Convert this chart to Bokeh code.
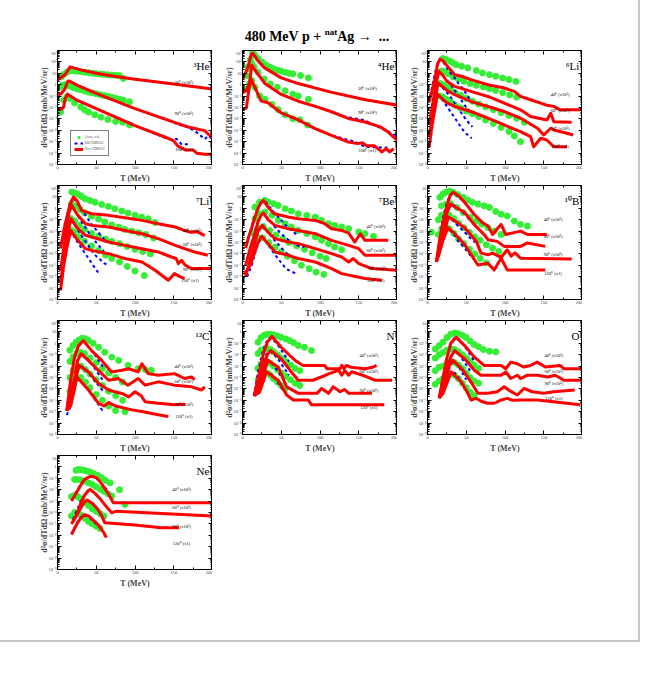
from bokeh.plotting import figure
from bokeh.layouts import gridplot, column, row
from bokeh.models import (Div, Spacer, LogAxis, LinearAxis, FixedTicker,
                          CustomJSTickFormatter, Legend, LegendItem)
from bokeh.core.properties import value
from bokeh.embed import file_html
from bokeh.resources import INLINE

FONT = "Liberation Serif"
GREEN = "#33ee33"
BLUE = "#0000ff"
RED = "#ff0000"

# ---- data: (T in MeV, log10 of d2sigma/dTdOmega) ----
# 3He
he3_exp = [([5,8,12,15,18,22,26,30,35,40,45,50,55,60,65,70,75,80,85],
            [0.7,0.9,1.1,1.2,1.25,1.22,1.18,1.15,1.1,1.05,1.0,0.97,0.93,0.9,0.87,0.85,0.82,0.8,0.55]),
           ([3,6,10,15,20,25,30,35,40,45,50,55,60,65,70,75,80,85,93],
            [-0.2,-0.05,0.0,-0.1,-0.25,-0.35,-0.45,-0.55,-0.65,-0.72,-0.8,-0.88,-0.95,-1.02,-1.1,-1.2,-1.28,-1.35,-1.5]),
           ([4,8,12,16,22,30,35,40,48,56,65,75,84,93],
            [-2.4,-1.36,-1.07,-1.21,-1.6,-1.96,-2.2,-2.4,-2.64,-2.85,-3.05,-3.23,-3.29,-3.53])]
he3_old = [([0,5,10,13,16,20,30,50,75,100,150,200],
            [0.4,0.65,0.9,1.2,1.55,1.5,1.3,1.0,0.72,0.48,0.06,-0.4]),
           ([0,5,10,13,15,25,50,100,143,160,169,180,190,195,200],
            [-0.92,-0.77,-0.32,0.27,0.33,-0.03,-0.77,-2.1,-3.14,-3.59,-3.74,-4.2,-4.78,-4.48,-4.8]),
           ([0,5,8,10,13,15,25,50,100,143,154,160,169],
            [-2.16,-2.16,-1.96,-1.21,-0.83,-0.92,-1.36,-2.1,-3.59,-4.77,-4.77,-5.22,-5.22])]
he3_new = [([0,5,10,13,16,20,30,50,75,100,150,200],
            [0.4,0.65,0.9,1.2,1.55,1.5,1.3,1.0,0.72,0.48,0.06,-0.38]),
           ([0,5,10,13,15,25,50,100,150,170,180,190,200],
            [-0.92,-0.77,-0.32,0.27,0.33,-0.03,-0.77,-2.1,-3.29,-3.74,-3.88,-4.03,-4.7]),
           ([0,5,8,10,13,15,25,50,100,140,150,155,165,175,180,190,200],
            [-2.16,-2.16,-1.96,-1.21,-0.83,-0.92,-1.36,-2.1,-3.59,-4.63,-4.92,-5.37,-5.72,-5.72,-6.02,-6.11,-6.11])]
he3_lab = ["20\u2070 (x10\u00b2)", "90\u2070 (x10\u00b9)", "160\u2070 (x1)"]
he3_lab_T = [163, 163, 163]
he3_lab_lg = [0.21, -2.55, -5.67]

# 4He
he4_exp = [([7,10,13,16,20,25,30,35,40,45,50,55,60,65,75,85],
            [1.56,2.2,2.8,2.6,2.3,2.0,1.75,1.55,1.4,1.28,1.18,1.1,1.0,0.95,0.8,0.6]),
           ([5,9,12,15,20,28,36,45,55,65,72,85],
            [0.8,1.4,1.85,1.55,1.1,0.5,0.07,-0.23,-0.53,-0.83,-1.0,-1.28]),
           ([6,9,12,16,22,29,38,46,55,65,74,84],
            [-0.38,0.07,0.37,-0.23,-0.98,-1.28,-1.73,-2.18,-2.63,-2.99,-3.08,-3.53])]
he4_old = [([0,3,7,11,13,15,20,28,50,72,114,157,200],
            [0.5,0.9,1.5,2.6,2.75,2.6,2.1,1.5,0.6,0.1,-0.65,-1.3,-1.8]),
           ([0,5,9,12,18,29,50,72,93,114,132,157,170,184,200],
            [-0.7,-0.5,0.2,1.7,1.1,0.1,-0.85,-1.45,-1.88,-2.35,-2.8,-3.1,-3.55,-4.0,-4.5]),
           ([0,5,8,11,16,24,33,50,72,93,114,145,158,175,187],
            [-2.18,-2.03,-0.53,0.5,-0.23,-1.43,-1.58,-2.48,-3.08,-3.83,-4.43,-5.0,-5.45,-5.5,-5.5])]
he4_new = [([0,3,7,11,13,15,20,28,50,72,114,157,200],
            [0.5,0.9,1.5,2.6,2.75,2.6,2.1,1.5,0.6,0.1,-0.65,-1.3,-1.8]),
           ([0,5,9,12,18,29,50,72,93,114,138,157,178,187,200],
            [-0.7,-0.5,0.2,1.7,1.1,0.1,-0.85,-1.45,-1.88,-2.35,-2.99,-3.25,-3.7,-4.1,-4.9]),
           ([0,5,8,11,16,24,33,50,72,93,114,136,149,155,160,170,180,185,190,195],
            [-2.18,-2.03,-0.53,0.5,-0.23,-1.43,-1.58,-2.48,-3.08,-3.83,-4.43,-5.02,-5.17,-5.1,-5.35,-5.35,-5.9,-5.6,-5.9,-5.6])]
he4_lab = ["20\u2070 (x10\u00b2)", "90\u2070 (x10\u00b9)", "160\u2070 (x1)"]
he4_lab_T = [161, 161, 161]
he4_lab_lg = [-0.29, -2.48, -5.77]

# 6Li
li6_exp = [([20,24,29,33,37,44,52,63,71,80,88,97,105,114],
            [1.29,1.21,1.06,0.91,0.76,0.62,0.47,0.24,0.03,-0.12,-0.26,-0.41,-0.55,-0.71]),
           ([18,22,27,33,40,47,55,63,72,80,88,97,106,115],
            [0.2,0.15,-0.05,-0.3,-0.5,-0.7,-0.9,-1.05,-1.2,-1.35,-1.5,-1.7,-1.9,-2.1]),
           ([16,20,25,30,36,43,50,58,66,75,85,95,105,115,125],
            [-0.9,-1.0,-1.2,-1.45,-1.7,-1.95,-2.2,-2.45,-2.7,-2.95,-3.2,-3.45,-3.7,-3.95,-4.3]),
           ([16,20,25,30,36,43,50,58,66,75,85,95,105,112,120],
            [-2.0,-2.1,-2.3,-2.55,-2.8,-3.05,-3.3,-3.55,-3.8,-4.1,-4.4,-4.75,-5.1,-5.5,-6.0])]
li6_old = [([2,8,12,16,20,25,30,35,40,45,50,55],
            [-2.5,-0.5,0.7,1.2,1.0,0.5,0.0,-0.4,-0.9,-1.3,-1.8,-2.3]),
           ([2,8,12,15,20,25,30,35,40,45,50,56],
            [-4.5,-1.8,-0.3,0.15,-0.2,-0.6,-1.0,-1.5,-2.0,-2.5,-3.0,-3.4]),
           ([2,8,12,14,20,25,30,35,40,45,50,58],
            [-5.5,-3.0,-1.2,-0.85,-1.3,-1.7,-2.1,-2.6,-3.1,-3.6,-4.1,-4.7]),
           ([2,8,11,13,20,25,30,35,40,45,50,57],
            [-6.5,-4.0,-2.2,-1.85,-2.4,-2.9,-3.4,-3.9,-4.4,-4.9,-5.3,-5.7])]
li6_new = [([2,6,10,13,16,20,24,35,44,56,78,99,112,120,133,146,154,163,171,200],
            [-2.5,-1.5,-0.3,0.8,1.25,1.1,0.76,-0.12,-0.26,-0.56,-1.0,-1.29,-1.59,-2.03,-2.32,-2.62,-2.8,-2.9,-3.2,-3.2]),
           ([2,6,10,14.5,20,25,35,56,78,99,120,133,154,159,163,186],
            [-4.5,-3.0,-1.3,0.18,-0.2,-0.7,-1.15,-1.59,-2.03,-2.62,-3.2,-3.79,-4.09,-3.5,-4.24,-4.3]),
           ([2,6,10,13.6,20,25,35,56,78,99,120,142,150,159,163,180,188],
            [-5.5,-4.0,-2.3,-0.85,-1.2,-1.5,-1.88,-2.47,-2.91,-3.35,-3.94,-4.82,-5.41,-4.82,-4.97,-5.26,-5.41]),
           ([2,6,10,12.8,20,25,35,56,78,99,120,133,137,146,154,163,180],
            [-6.5,-4.5,-3.0,-1.82,-2.3,-2.6,-2.91,-3.35,-3.94,-4.53,-5.12,-5.56,-6.44,-5.7,-5.85,-6.44,-6.44])]
li6_lab = ["40\u2070 (x10\u00b3)", "60\u2070 (x10\u00b2)", "90\u2070 (x10\u00b9)", "120\u2070 (x1)"]
li6_lab_T = [171, 171, 171, 171]
li6_lab_lg = [-1.88, -3.26, -4.82, -6.44]

# 7Li
li7_exp = [([18.5,22.7,27,31,35.6,42,48.5,57,65.7,74,83,91,100,108.6,117,126],
            [1.42,1.33,1.21,1.04,0.83,0.69,0.54,0.34,0.16,-0.04,-0.24,-0.42,-0.62,-0.77,-0.92,-1.25]),
           ([18,23,29,35,44,53,61,70,79,87,96,105,114,124],
            [0.4,0.2,-0.1,-0.4,-0.7,-0.95,-1.2,-1.45,-1.65,-1.85,-2.0,-2.15,-2.3,-2.6]),
           ([12,17,22,28,35,44,53,62,70,80,90,100,110,120],
            [-1.4,-0.9,-1.1,-1.5,-1.85,-2.2,-2.45,-2.7,-2.9,-3.1,-3.35,-3.6,-3.8,-4.0]),
           ([12,17,22,28,35,44,53,62,70,80,90,100,112],
            [-2.5,-1.9,-2.1,-2.5,-2.9,-3.3,-3.7,-4.1,-4.4,-4.7,-5.1,-5.5,-5.9])]
li7_old = [([4,10,15,20,25,30,35,40,45,50,55,60,65],
            [-3.5,-1.5,0.2,0.95,0.5,0.0,-0.5,-1.0,-1.5,-1.9,-2.3,-2.7,-3.0]),
           ([4,10,15,18,25,30,35,40,45,50,55,60],
            [-5.5,-2.5,-0.4,0.2,-0.5,-1.1,-1.6,-2.1,-2.6,-3.0,-3.4,-3.8]),
           ([4,10,15,17,25,30,35,40,45,50,55,60,65],
            [-6.5,-3.5,-1.3,-0.92,-1.8,-2.3,-2.8,-3.3,-3.8,-4.2,-4.5,-4.8,-5.0]),
           ([4,10,15,17,25,30,35,40,45,50,53],
            [-7.2,-4.2,-2.3,-1.95,-2.9,-3.4,-3.9,-4.4,-4.9,-5.4,-5.7])]
li7_new = [([4,8,12,16,20.6,25,31,44,66,87,109,130,152,162,172,180,190],
            [-3.5,-2.0,-0.8,0.3,0.98,0.7,-0.19,-0.48,-0.62,-0.83,-1.06,-1.35,-1.64,-1.9,-2.1,-2.05,-2.4]),
           ([4,8,12,15,18.5,25,36,44,66,87,109,130,152,164,177,194],
            [-5.5,-3.5,-1.5,-0.3,0.25,-0.5,-1.35,-1.5,-1.64,-1.94,-2.23,-2.66,-3.25,-3.54,-3.83,-4.12]),
           ([4,8,12,17.6,25,36,44,66,87,109,130,147,153,156,160,165,173,200],
            [-6.5,-4.5,-2.5,-0.92,-1.7,-2.37,-2.52,-2.96,-3.25,-3.54,-3.83,-4.27,-4.4,-4.85,-4.56,-5.0,-5.29,-5.29]),
           ([4,8,12,17,25,36,44,66,87,109,126,143,151,158,164],
            [-7.2,-5.0,-3.5,-1.94,-2.7,-3.54,-3.69,-3.98,-4.41,-4.71,-5.43,-6.31,-5.73,-6.0,-6.16])]
li7_lab = ["40\u2070 (x10\u00b3)", "60\u2070 (x10\u00b2)", "90\u2070 (x10\u00b9)", "120\u2070 (x1)"]
li7_lab_T = [174, 174, 174, 171]
li7_lab_lg = [-1.94, -3.16, -5.35, -6.37]

# 7Be
be7_exp = [([16,22,29,33,40,46,55,63,72,83,94,102,111,119,128,137,150,158,169],
            [0.1,0.54,0.69,0.55,0.4,0.25,-0.04,-0.24,-0.48,-0.62,-0.77,-1.06,-1.35,-1.5,-1.64,-1.79,-2.08,-2.23,-2.46]),
           ([16,22,29,38,46,55,63,72,83,94,102,111,119,128],
            [-0.92,-0.48,-0.33,-0.62,-1.06,-1.35,-1.64,-1.94,-2.23,-2.52,-2.81,-3.1,-3.39,-3.63]),
           ([14,20,27,35,43,52,60,70,80,90,100,108],
            [-2.2,-1.7,-1.6,-1.95,-2.35,-2.7,-3.0,-3.3,-3.6,-3.9,-4.2,-4.4]),
           ([14,20,26,34,42,50,58,67,76,86,95,105],
            [-3.1,-2.6,-2.6,-3.0,-3.4,-3.8,-4.2,-4.6,-5.0,-5.3,-5.6,-5.8])]
be7_old = [([6,12,18,24,28,33,40,48,56,64,72],
            [-3.0,-1.5,-0.3,0.5,0.7,0.3,-0.3,-0.9,-1.5,-2.0,-2.4]),
           ([6,12,18,24,28,33,40,48,56,64,72,80],
            [-4.5,-3.0,-1.5,-0.6,-0.45,-0.9,-1.5,-2.1,-2.6,-3.0,-3.3,-3.4]),
           ([6,12,18,24,26,33,40,48,56,62],
            [-5.5,-4.0,-2.5,-1.6,-1.5,-2.1,-2.7,-3.3,-3.9,-4.2]),
           ([6,12,18,24,26,33,40,48,56,62,68],
            [-6.0,-5.0,-3.5,-2.6,-2.5,-3.2,-3.9,-4.6,-5.3,-5.5,-5.7])]
be7_new = [([4,8,12,16,20,24,27,33,41,59,72,94,106,115,128,137,145,152,158,188],
            [-3.5,-2.5,-1.7,-0.8,0.0,0.5,0.69,0.1,-0.48,-0.77,-0.92,-1.06,-1.35,-1.79,-1.94,-2.17,-2.96,-2.23,-2.81,-2.81]),
           ([4,10,15,20,24,27,33,42,59,72,94,115,137,150,158,200],
            [-5.0,-3.5,-2.5,-1.2,-0.6,-0.42,-1.0,-1.5,-1.79,-1.94,-2.23,-2.81,-3.25,-3.54,-4.12,-4.12]),
           ([4,10,15,20,25.4,33,42,59,72,94,115,128,137,143,150,167,200],
            [-6.0,-4.5,-3.2,-2.0,-1.5,-2.1,-2.66,-2.96,-3.1,-3.54,-3.98,-4.27,-4.71,-4.41,-4.85,-5.29,-5.43]),
           ([2,10,15,20,24.6,33,42,59,72,94,115,128,158,180],
            [-5.8,-5.0,-4.0,-3.0,-2.46,-3.1,-3.83,-4.12,-4.41,-4.71,-5.29,-5.73,-6.16,-6.31])]
be7_lab = ["40\u2070 (x10\u00b3)", "60\u2070 (x10\u00b2)", "90\u2070 (x10\u00b9)", "120\u2070 (x1)"]
be7_lab_T = [172, 172, 174, 172]
be7_lab_lg = [-1.64, -3.69, -5.29, -6.37]

# 10B
b10_exp = [([16,20,24,28.5,33,39,46,52,58,65,73,80,88,95,103,112,120,129],
            [-0.04,0.26,0.41,0.5,0.41,0.2,-0.04,-0.28,-0.48,-0.63,-0.78,-0.93,-1.28,-1.52,-1.67,-2.12,-2.41,-2.56]),
           ([18,24,30,38,46,55,63,70,78,86,95],
            [-0.78,-0.63,-0.6,-0.93,-1.37,-1.8,-2.1,-2.4,-2.7,-3.0,-3.3]),
           ([5,14,18,23,28,34,40,47,54,61,68,76,84,92],
            [-3.1,-2.0,-1.6,-1.5,-1.6,-1.9,-2.3,-2.7,-3.1,-3.5,-3.8,-4.2,-4.5,-4.8]),
           ([14,18,23,28,34,40,47,54,61,68,76],
            [-3.3,-2.8,-2.6,-2.8,-3.2,-3.7,-4.1,-4.6,-5.0,-5.4,-5.8])]
b10_old = [([12,16,20,25,30,35,40,48,55,62],
            [-5.5,-3.5,-1.8,-0.5,0.25,0.3,0.0,-0.5,-1.1,-1.7]),
           ([12,16,20,25,30,35,40,48,55,62],
            [-5.5,-4.0,-2.5,-1.2,-0.65,-0.75,-1.0,-1.5,-2.0,-2.5]),
           ([12,16,20,25,28,35,40,48,55,62],
            [-5.5,-4.5,-3.2,-2.0,-1.8,-2.2,-2.6,-3.1,-3.6,-4.0]),
           ([12,16,20,25,27,35,40,48,55,60],
            [-5.5,-4.8,-3.8,-2.9,-2.75,-3.4,-3.9,-4.5,-5.1,-5.5])]
b10_new = [([11.5,15,20,25,29,33,40,48,60,71,78,84,90,95,101,120,129,154],
            [-5.7,-4.0,-2.2,-0.8,0.1,0.41,0.1,-0.48,-1.52,-2.26,-2.56,-3.3,-2.8,-2.41,-3.3,-3.0,-3.3,-3.3]),
           ([11.5,15,20,25,30,36,48,60,73,78,90,99,120,129,152],
            [-5.7,-4.5,-3.0,-1.4,-0.63,-0.9,-1.37,-2.41,-3.3,-3.75,-3.9,-4.34,-4.34,-4.04,-4.34]),
           ([11.5,15,20,27,35,48,63,69,78,84,95,103,108,113,120,186],
            [-5.7,-4.8,-3.5,-1.76,-2.1,-2.7,-3.9,-4.93,-5.08,-4.93,-5.3,-4.64,-5.2,-4.9,-5.38,-5.44]),
           ([11.5,15,20,26.4,35,48,65,78,86,95,103,120,152],
            [-5.7,-5.0,-3.8,-2.7,-3.2,-4.19,-5.97,-5.82,-6.42,-5.38,-6.42,-6.42,-6.42])]
b10_lab = ["40\u2070 (x10\u00b3)", "60\u2070 (x10\u00b2)", "90\u2070 (x10\u00b9)", "120\u2070 (x1)"]
b10_lab_T = [162, 162, 162, 162]
b10_lab_lg = [-1.97, -3.45, -5.08, -6.72]

# 12C
c12_exp = [([16,20,24,28,32,36,40,46,53,61,70,79,91,104,113,121],
            [-0.6,-0.2,0.1,0.3,0.45,0.4,0.25,0.0,-0.35,-0.78,-1.21,-1.5,-1.94,-2.23,-2.3,-2.37]),
           ([16,20,25,30,35,42,50,58,66,75,84],
            [-1.6,-1.2,-0.9,-0.8,-0.9,-1.3,-1.7,-2.2,-2.6,-3.0,-3.4]),
           ([16,20,25,30,36,42,50,58,66,75,84],
            [-3.0,-2.4,-2.0,-2.0,-2.3,-2.7,-3.2,-3.7,-4.2,-4.6,-5.0]),
           ([16,20,25,30,36,42,50,58,66,75,87],
            [-4.2,-3.6,-3.1,-3.0,-3.4,-3.9,-4.5,-5.0,-5.5,-5.9,-6.0])]
c12_old = [([12,17,22,27,33,40,47,54,60],
            [-5.9,-3.2,-1.3,-0.3,0.2,-0.3,-0.9,-1.6,-2.2]),
           ([12,17,22,26,31,38,45,52,58],
            [-5.9,-4.5,-3.0,-1.5,-0.9,-1.3,-1.9,-2.6,-3.2]),
           ([12,17,22,28,34,40,47,54,60],
            [-5.9,-5.0,-3.5,-2.0,-2.1,-2.6,-3.2,-3.8,-4.3]),
           ([12,17,22,25,32,40,47,54,58],
            [-6.3,-5.5,-4.0,-3.0,-3.4,-4.1,-4.8,-5.5,-5.9])]
c12_new = [([12,17,22,27,33.5,44,57,66,70,83,92,104,109,117,130,151,164,173,177],
            [-5.9,-3.2,-1.2,-0.2,0.23,-0.64,-1.5,-2.23,-2.51,-2.37,-2.23,-2.51,-1.79,-2.66,-2.8,-2.66,-3.09,-2.95,-3.18]),
           ([12,17,22,26,30.5,44,57,66,78.5,91,104,113,130,151,173,186,190],
            [-5.9,-4.5,-3.0,-1.5,-0.92,-1.79,-2.66,-3.24,-3.09,-3.67,-3.09,-3.67,-3.38,-3.67,-3.82,-4.1,-3.82]),
           ([12,17,22,28,40,53,66,74,83,92,100,108,113,130,151,165],
            [-5.9,-5.2,-3.5,-1.94,-2.51,-3.53,-4.1,-4.25,-4.4,-4.7,-4.25,-4.6,-5.12,-5.26,-5.4,-5.35]),
           ([12,17,22,25,40,53,60,66,75,96,109,130,143],
            [-5.9,-5.5,-4.0,-2.95,-4.1,-5.26,-5.5,-5.2,-5.5,-5.84,-5.98,-6.27,-6.42])]
c12_lab = ["40\u2070 (x10\u00b3)", "60\u2070 (x10\u00b2)", "90\u2070 (x10\u00b9)", "120\u2070 (x1)"]
c12_lab_T = [163, 163, 163, 163]
c12_lab_lg = [-2.02, -3.32, -5.4, -6.42]

# N
n_exp = [([20,24,28,32,36,40,45,50,56,61,66,72,80,89],
          [-0.9,-0.5,-0.3,-0.2,-0.2,-0.25,-0.35,-0.48,-0.62,-0.77,-0.95,-1.2,-1.35,-1.64]),
         ([20,24,28,32,36,40,45,50,56,62,68,74],
          [-1.9,-1.6,-1.5,-1.45,-1.55,-1.75,-2.0,-2.3,-2.6,-2.9,-3.2,-3.4]),
         ([20,24,28,32,36,40,45,50,56,62,68,74],
          [-3.2,-2.8,-2.6,-2.6,-2.75,-3.0,-3.3,-3.6,-3.9,-4.2,-4.5,-4.7]),
         ([20,24,28,32,36,40,45,50,55],
          [-4.2,-3.8,-3.6,-3.6,-3.8,-4.1,-4.4,-4.7,-5.0])]
n_old = [([15,20,25,30,35,40,45,50,55,60],
          [-5.6,-3.5,-2.0,-1.0,-0.5,-0.7,-1.1,-1.6,-2.1,-2.6]),
         ([15,20,25,30,35,40,45,50,55,60],
          [-5.6,-4.0,-2.8,-2.0,-1.7,-1.9,-2.3,-2.8,-3.3,-3.8]),
         ([15,20,25,30,35,40,45,50,55],
          [-5.6,-4.4,-3.4,-2.7,-2.6,-2.9,-3.4,-3.9,-4.4]),
         ([15,20,25,30,35,40,45,50,53],
          [-5.6,-4.8,-4.0,-3.6,-3.6,-3.9,-4.4,-4.9,-5.2])]
n_new = [([15,22,27,32,38,50,61,68,78,106,109,126,128,131,134,140,158,169,173],
          [-5.6,-3.5,-1.9,-0.9,-0.4,-1.35,-2.07,-2.5,-2.94,-2.94,-3.23,-3.23,-2.94,-3.23,-2.94,-3.1,-3.23,-3.08,-2.94]),
         ([15,22,27,32,36.6,50,63,72,91,104,112,124,128,132,137,141,155,171,193],
          [-5.6,-4.5,-3.0,-2.0,-1.64,-2.36,-3.51,-4.24,-4.24,-3.89,-3.66,-3.37,-3.8,-3.4,-3.8,-3.5,-3.8,-4.24,-4.24]),
         ([15,22,28,33,46,57,72,96,102,111,117,126,132,137,167],
          [-5.6,-5.0,-3.5,-2.5,-3.08,-4.82,-5.39,-5.39,-4.96,-5.39,-4.82,-5.25,-5.05,-5.39,-5.39]),
         ([15,22,27,31,46,57,65.5,85,89,183],
          [-5.6,-5.3,-4.3,-3.51,-4.24,-5.54,-5.97,-5.97,-6.4,-6.4])]
n_lab = ["40\u2070 (x10\u00b3)", "60\u2070 (x10\u00b2)", "90\u2070 (x10\u00b9)", "120\u2070 (x1)"]
n_lab_T = [163, 163, 163, 163]
n_lab_lg = [-2.07, -3.43, -5.1, -6.64]

# O
o_exp = [([10,15,20,25,30,35,40,45,50,55,60,66,72,80,88],
          [-1.5,-1.2,-0.9,-0.5,-0.2,-0.1,-0.15,-0.3,-0.5,-0.8,-1.1,-1.3,-1.55,-1.7,-1.75]),
         ([10,15,20,25,30,35,40,45,50,55,60,66],
          [-2.3,-2.0,-1.8,-1.6,-1.5,-1.55,-1.75,-2.0,-2.3,-2.6,-2.9,-3.2]),
         ([10,15,20,25,30,35,40,45,50,55,60,66],
          [-3.4,-3.1,-3.0,-2.8,-2.6,-2.7,-2.9,-3.2,-3.6,-4.0,-4.3,-4.5]),
         ([10,15,20,25,30,35,40,45,50,55,60],
          [-4.6,-4.3,-4.1,-3.9,-3.7,-3.8,-4.1,-4.5,-4.9,-5.3,-5.6])]
o_old = [([15,20,25,30,35,40,45,50,55,60],
          [-5.8,-4.0,-2.3,-1.0,-0.5,-0.6,-1.0,-1.5,-2.0,-2.5]),
         ([15,20,25,30,35,40,45,50,55],
          [-5.8,-4.7,-3.3,-2.2,-1.7,-1.9,-2.4,-2.9,-3.4]),
         ([15,20,25,30,35,40,45,50],
          [-5.8,-5.0,-3.8,-2.8,-2.6,-3.0,-3.6,-4.2]),
         ([15,20,25,30,35,40,45,50],
          [-5.8,-5.2,-4.3,-3.6,-3.6,-4.0,-4.6,-5.2])]
o_new = [([15,20,25,30,37,48,60.5,73,95,101,107.5,116,124,133,141.6,152,171,176,200],
          [-5.8,-4.0,-2.3,-1.0,-0.48,-1.2,-2.21,-2.94,-2.94,-3.23,-2.65,-2.8,-3.08,-2.94,-2.65,-3.08,-2.94,-3.23,-3.23]),
         ([15,20,25,30,35,48,60.5,69,95,101,107.5,116,120,129,142,155,165,176,200],
          [-5.8,-4.7,-3.3,-2.2,-1.64,-2.36,-3.37,-3.8,-3.8,-3.51,-4.09,-3.8,-4.09,-3.8,-3.8,-3.95,-3.8,-4.24,-4.24]),
         ([15,20,25,28,33,46,56,65,78,90,99,107,116,124.5,135,150,163,190],
          [-5.8,-5.2,-4.0,-3.0,-2.5,-3.37,-4.38,-5.39,-5.39,-5.25,-4.82,-5.2,-5.54,-4.96,-5.25,-5.39,-5.25,-5.1]),
         ([15,20,25,30.7,43.5,52,56,63,70,78,86,94,103,110,120,142,197],
          [-5.8,-5.4,-4.5,-3.51,-4.38,-5.39,-5.97,-5.83,-6.1,-6.26,-6.26,-6.0,-5.83,-6.0,-5.97,-5.97,-6.4])]
o_lab = ["40\u2070 (x10\u00b3)", "60\u2070 (x10\u00b2)", "90\u2070 (x10\u00b9)", "120\u2070 (x1)"]
o_lab_T = [163, 163, 163, 163]
o_lab_lg = [-2.07, -3.46, -4.53, -5.83]

# Ne
ne_exp = [([24,27,30,34,38,42,47,52,57,62,68,80],
           [-0.3,-0.23,-0.25,-0.3,-0.37,-0.45,-0.6,-0.75,-0.96,-1.2,-1.4,-2.0]),
          ([22,26,30,35,40,45,50,55,60,65,70,87],
           [-1.1,-1.1,-1.15,-1.25,-1.4,-1.55,-1.75,-1.95,-2.15,-2.35,-2.55,-3.3]),
          ([18,22,26,30,35,40,45,50,55,60],
           [-2.6,-2.5,-2.6,-2.8,-3.1,-3.4,-3.7,-3.9,-4.1,-4.3]),
          ([18,22,26,30,35,40,45,50,55],
           [-4.3,-4.0,-4.0,-4.2,-4.5,-4.8,-5.0,-5.2,-5.4])]
ne_old = [([20,25,30,35,40,45,50,55,60,65],
           [-2.8,-2.1,-1.5,-1.1,-0.9,-0.85,-1.0,-1.3,-1.7,-2.1]),
          ([20,25,30,35,40,45,50,55,60],
           [-4.6,-3.8,-3.0,-2.4,-2.05,-2.1,-2.4,-2.8,-3.2]),
          ([20,25,30,35,40,45,50,55,60],
           [-4.7,-4.1,-3.5,-3.1,-2.95,-3.2,-3.6,-4.1,-4.6]),
          ([18,22,26,30,35,40,45,50,55],
           [-5.9,-5.3,-4.8,-4.4,-4.2,-4.4,-4.7,-5.0,-5.3])]
ne_new = [([18,25,30,35,40,44,50,55,60,66,72,200],
           [-3.0,-2.2,-1.6,-1.1,-0.9,-0.81,-0.95,-1.3,-1.8,-2.4,-3.15,-3.15]),
          ([18,25,30,35,40,42,48,55,62,70,76,200],
           [-5.0,-4.2,-3.2,-2.5,-2.05,-1.98,-2.3,-2.8,-3.4,-4.03,-3.88,-4.32]),
          ([20,25,30,35,38,45,52,57,61,100,134,157],
           [-4.76,-4.2,-3.6,-3.1,-2.9,-3.2,-3.7,-4.3,-4.9,-5.1,-5.34,-5.34]),
          ([18,22,26,30,35,40,45,50,55,60,63],
           [-5.93,-5.4,-4.9,-4.5,-4.18,-4.3,-4.6,-4.9,-5.3,-5.8,-6.2])]
ne_lab = ["40\u2070 (x10\u00b3)", "60\u2070 (x10\u00b2)", "90\u2070 (x10\u00b9)", "120\u2070 (x1)"]
ne_lab_T = [160, 160, 160, 160]
ne_lab_lg = [-1.98, -3.53, -5.2, -6.75]

panel_names = ["\u00b3He", "\u2074He", "\u2076Li", "\u2077Li", "\u2077Be",
               "\u00b9\u2070B", "\u00b9\u00b2C", "N", "O", "Ne"]
panel_lo = [-7, -7, -8, -8, -8, -9, -8, -9, -9, -9]
panel_hi = [3, 3, 2, 2, 2, 1, 2, 1, 1, 1]

SUP_JS = """
const e = Math.round(Math.log10(tick));
if (e === 0) return "1";
if (e === 1) return "10";
const m = {"-":"\u207b","0":"\u2070","1":"\u00b9","2":"\u00b2","3":"\u00b3","4":"\u2074",
           "5":"\u2075","6":"\u2076","7":"\u2077","8":"\u2078","9":"\u2079"};
return "10" + String(e).split("").map(c => m[c]).join("");
"""
BLANK_JS = 'return "";'


def style_axis(ax, show, ylab=False):
    ax.major_tick_in = 4
    ax.major_tick_out = 0
    ax.minor_tick_in = 2
    ax.minor_tick_out = 0
    ax.axis_line_color = "black"
    ax.major_tick_line_color = "black"
    ax.minor_tick_line_color = "black"
    ax.major_label_text_font = FONT
    ax.axis_label_text_font = FONT
    ax.axis_label_text_font_style = "bold"
    ax.axis_label_text_font_size = "8px"
    if show:
        ax.major_label_text_font_size = "4.5px"
        ax.major_label_standoff = 1
        ax.axis_label_standoff = -4 if ylab else 2
    else:
        ax.major_label_text_font_size = "1px"
        ax.major_label_standoff = 0
        ax.axis_label = None


def make_panel(name, lo, hi, exp, old, new, lab, lab_T, lab_lg, legend=False):
    p = figure(frame_width=155, frame_height=114, x_range=(0, 200),
               y_range=(10.0 ** lo, 10.0 ** hi), y_axis_type="log",
               output_backend="svg", toolbar_location=None,
               min_border_left=30, min_border_right=0,
               min_border_top=0, min_border_bottom=21)
    p.grid.visible = False
    p.outline_line_color = "black"
    p.outline_line_width = 1

    yt = FixedTicker(ticks=[10.0 ** e for e in range(lo, hi + 1)],
                     minor_ticks=[m * 10.0 ** e for e in range(lo, hi) for m in range(2, 10)])
    xt = FixedTicker(ticks=[0, 50, 100, 150, 200], minor_ticks=[25, 75, 125, 175])

    p.yaxis.ticker = yt
    p.yaxis.formatter = CustomJSTickFormatter(code=SUP_JS)
    p.yaxis.axis_label = "d\u00b2\u03c3/dTd\u03a9 (mb/MeV/sr)"
    style_axis(p.yaxis[0], True, ylab=True)
    p.xaxis.ticker = xt
    p.xaxis.axis_label = "T (MeV)"
    style_axis(p.xaxis[0], True)

    ra = LogAxis(ticker=yt, formatter=CustomJSTickFormatter(code=BLANK_JS))
    style_axis(ra, False)
    p.add_layout(ra, "right")
    ta = LinearAxis(ticker=xt, formatter=CustomJSTickFormatter(code=BLANK_JS))
    style_axis(ta, False)
    p.add_layout(ta, "above")

    g_r = b_r = r_r = None
    for T, lg in exp:
        g_r = p.scatter(T, [10.0 ** v for v in lg], size=6, fill_color=GREEN,
                        line_color=GREEN)
    for T, lg in old:
        b_r = p.line(T, [10.0 ** v for v in lg], line_color=BLUE, line_width=2,
                     line_dash="3 3")
    for T, lg in new:
        r_r = p.line(T, [10.0 ** v for v in lg], line_color=RED, line_width=3,
                     line_join="round")

    p.text(x=lab_T, y=[10.0 ** v for v in lab_lg], text=lab,
           text_font=value(FONT), text_font_size="4.5px", text_align="center",
           text_baseline="middle", text_color="black")
    p.text(x=[196], y=[10.0 ** (hi - 1.35)], text=[name], text_font=value(FONT),
           text_font_size="11px", text_align="right", text_baseline="alphabetic",
           text_color="black")

    if legend:
        lgd = Legend(items=[LegendItem(label="Green, et al.", renderers=[g_r]),
                            LegendItem(label="Old CEM03.01", renderers=[b_r]),
                            LegendItem(label="New CEM03.01", renderers=[r_r])],
                     location=(13, 8), label_text_font=FONT,
                     label_text_font_size="3px", glyph_height=6, glyph_width=9,
                     label_height=6, spacing=0, padding=3, margin=0,
                     label_standoff=2, border_line_color="black",
                     border_line_width=1, background_fill_alpha=1)
        p.add_layout(lgd)
    return p


specs = [(he3_exp, he3_old, he3_new, he3_lab, he3_lab_T, he3_lab_lg),
         (he4_exp, he4_old, he4_new, he4_lab, he4_lab_T, he4_lab_lg),
         (li6_exp, li6_old, li6_new, li6_lab, li6_lab_T, li6_lab_lg),
         (li7_exp, li7_old, li7_new, li7_lab, li7_lab_T, li7_lab_lg),
         (be7_exp, be7_old, be7_new, be7_lab, be7_lab_T, be7_lab_lg),
         (b10_exp, b10_old, b10_new, b10_lab, b10_lab_T, b10_lab_lg),
         (c12_exp, c12_old, c12_new, c12_lab, c12_lab_T, c12_lab_lg),
         (n_exp, n_old, n_new, n_lab, n_lab_T, n_lab_lg),
         (o_exp, o_old, o_new, o_lab, o_lab_T, o_lab_lg),
         (ne_exp, ne_old, ne_new, ne_lab, ne_lab_T, ne_lab_lg)]

panels = []
for i, s in enumerate(specs):
    panels.append(make_panel(panel_names[i], panel_lo[i], panel_hi[i], *s,
                             legend=(i == 0)))

grid = gridplot([[panels[0], panels[1], panels[2]],
                 [panels[3], panels[4], panels[5]],
                 [panels[6], panels[7], panels[8]],
                 [panels[9], None, None]], toolbar_location=None)

title = Div(text=('<div style="width:620px;text-align:center;padding-top:21px;padding-left:4px;'
                  'font-family:\'Liberation Serif\';font-weight:bold;font-size:14px;">'
                  '480 MeV p + <sup style="font-size:9px">nat</sup>Ag \u2192 &nbsp;...</div>'),
            width=620, height=40)

layout = column(title,
                row(Spacer(width=27, height=10), grid, Spacer(width=50, height=10)),
                Spacer(width=10, height=50),
                styles={"border-right": "2px solid #c8c8c8",
                        "border-bottom": "2px solid #c8c8c8",
                        "box-sizing": "border-box",
                        "min-width": "640px"})

open("out.html", "w").write(file_html(layout, INLINE))
